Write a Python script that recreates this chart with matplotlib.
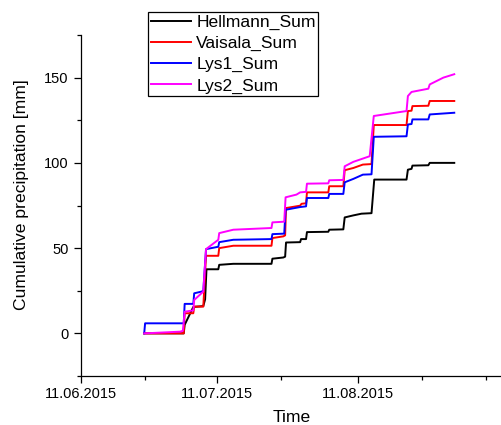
from datetime import datetime, timedelta

import matplotlib
matplotlib.use("Agg")
import matplotlib.pyplot as plt
import matplotlib.dates as mdates
from matplotlib.ticker import MultipleLocator


START = datetime(2015, 6, 11)

# days since 11.06.2015 and cumulative sums [mm]
hellmann_days = [13.9, 22.6, 22.8, 24.7, 26.9, 27.3, 27.6, 30.2, 30.4, 33.5, 41.9, 42.1,
                 44.5, 44.9, 45.1, 48.2, 48.4, 49.5, 49.7, 54.4, 54.6, 57.7, 58.0, 59.9,
                 61.7, 63.9, 64.5, 71.6, 71.9, 72.7, 72.9, 76.4, 76.7, 82.1]
hellmann_sum = [0, 0, 5.0, 15.5, 16.0, 20.0, 37.6, 37.6, 40.2, 40.8, 40.8, 43.8,
                44.5, 45.0, 53.3, 53.5, 55.3, 55.3, 59.4, 59.6, 60.8, 61.0, 68.0, 69.2,
                70.2, 70.5, 90.2, 90.2, 96.0, 96.5, 98.4, 98.6, 100.0, 100.0]

vaisala_days = [13.9, 22.6, 22.8, 24.7, 24.9, 26.9, 27.5, 30.2, 30.4, 33.5, 41.9, 42.1,
                44.5, 44.9, 45.1, 48.2, 48.5, 49.5, 49.7, 54.4, 54.6, 57.7, 58.0, 59.9,
                62.0, 63.9, 64.4, 71.6, 71.9, 72.7, 72.9, 76.4, 76.7, 82.1]
vaisala_sum = [0, 0, 11.8, 11.8, 15.7, 15.7, 45.5, 45.5, 50.0, 51.4, 51.4, 55.9,
               56.9, 57.5, 73.5, 74.9, 76.0, 76.3, 82.7, 82.7, 86.3, 86.3, 95.7, 97.0,
               99.0, 99.3, 122.2, 122.2, 130.4, 130.6, 133.3, 133.5, 136.3, 136.3]

lys1_days = [13.9, 14.1, 22.6, 22.8, 24.7, 24.9, 26.5, 26.9, 27.5, 29.8, 30.2, 30.4,
             33.5, 41.9, 42.1, 44.7, 45.0, 48.2, 49.5, 49.7, 54.4, 54.6, 57.7, 58.0,
             59.9, 62.0, 63.9, 64.4, 71.6, 71.9, 72.7, 72.9, 76.4, 76.7, 82.1]
lys1_sum = [0, 5.9, 5.9, 17.3, 17.3, 23.5, 24.5, 25.0, 49.4, 50.6, 50.8, 53.5,
            54.9, 55.3, 58.2, 58.5, 72.5, 74.1, 74.5, 79.4, 79.4, 81.8, 81.8, 88.6,
            90.6, 93.1, 93.3, 115.3, 115.6, 122.5, 122.8, 125.5, 125.5, 128.4, 129.4]

lys2_days = [13.9, 21.8, 22.4, 22.8, 24.7, 24.9, 26.9, 27.5, 30.2, 30.4, 33.5, 41.9,
             42.1, 44.7, 45.0, 47.4, 48.2, 49.5, 49.7, 54.4, 54.6, 57.7, 58.0, 59.9,
             63.5, 64.4, 71.6, 71.9, 72.7, 76.4, 76.7, 79.7, 82.1]
lys2_sum = [0, 1.0, 1.5, 12.7, 13.5, 19.6, 24.5, 49.4, 54.9, 58.8, 60.8, 61.8,
            65.1, 65.5, 79.8, 81.4, 82.7, 83.0, 87.8, 88.0, 89.8, 90.0, 98.0, 100.6,
            103.9, 127.5, 130.4, 139.2, 141.6, 143.5, 146.0, 150.0, 152.0]

series = [
    ("Hellmann_Sum", hellmann_days, hellmann_sum, "black"),
    ("Vaisala_Sum", vaisala_days, vaisala_sum, "#ff0000"),
    ("Lys1_Sum", lys1_days, lys1_sum, "#0000ff"),
    ("Lys2_Sum", lys2_days, lys2_sum, "#ff00ff"),
]

major_dates = ["11.06.2015", "11.07.2015", "11.08.2015"]
minor_dates = ["25.06.2015", "25.07.2015", "25.08.2015", "08.09.2015"]


def to_dates(days):
    return [START + timedelta(days=d) for d in days]


def main():
    plt.rcParams["font.family"] = ["Liberation Sans", "DejaVu Sans"]

    fig = plt.figure(figsize=(5.02, 4.25), dpi=100)
    ax = fig.add_axes([81 / 502, 1 - 376 / 425, 1 - 81 / 502, (376 - 35) / 425])

    for name, days, vals, color in series:
        ax.plot(to_dates(days), vals, color=color, lw=1.4, label=name)

    ax.set_xlim(START, START + timedelta(days=92.6))
    ax.set_ylim(-25, 175)

    ax.set_xticks([datetime.strptime(s, "%d.%m.%Y") for s in major_dates])
    ax.set_xticks([datetime.strptime(s, "%d.%m.%Y") for s in minor_dates], minor=True)
    ax.xaxis.set_major_formatter(mdates.DateFormatter("%d.%m.%Y"))
    ax.yaxis.set_major_locator(MultipleLocator(50))
    ax.yaxis.set_minor_locator(MultipleLocator(25))

    ax.tick_params(which="major", direction="out", length=5, width=0.9,
                   labelsize=10.5, pad=3)
    ax.tick_params(axis="y", which="major", pad=4)
    ax.tick_params(which="minor", direction="out", length=3.2, width=0.9)

    for side in ("top", "right"):
        ax.spines[side].set_visible(False)
    for side in ("left", "bottom"):
        ax.spines[side].set_linewidth(0.9)

    ax.set_ylabel("Cumulative precipitation [mm]", fontsize=12.6)
    ax.yaxis.set_label_coords(-0.124, 0.532)
    ax.set_xlabel("Time", fontsize=12.6)
    ax.xaxis.set_label_coords(0.5, -0.1)

    leg = fig.legend(loc="upper left", bbox_to_anchor=(148 / 502, 1 - 12 / 425),
                     fontsize=12.6, handlelength=2.3, handletextpad=0.3,
                     labelspacing=0.33, borderpad=0.15, borderaxespad=0,
                     fancybox=False, framealpha=1, edgecolor="black")
    leg.get_frame().set_linewidth(0.9)

    fig.savefig("out.png", dpi=100)


if __name__ == "__main__":
    main()
